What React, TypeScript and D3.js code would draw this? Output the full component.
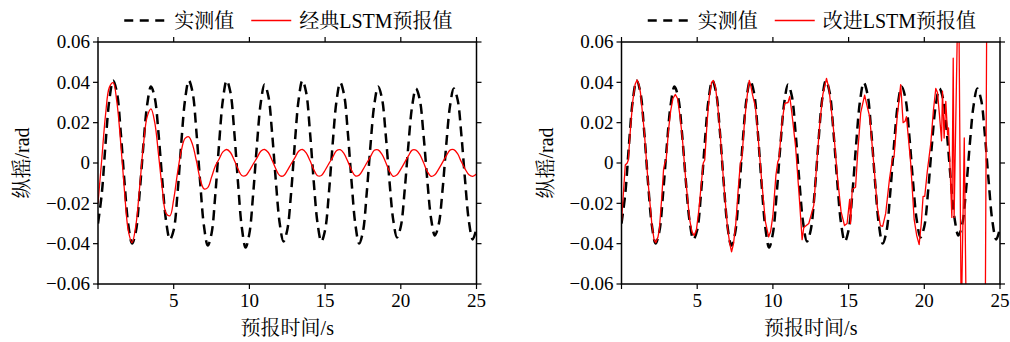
import React from "react";
import * as d3 from "d3";

// ---------- data ----------
const sampleTimes: number[] = d3.range(0, 101).map((i) => i * 0.25);

const measured: number[] = [
  -0.0300, -0.0152, 0.0097, 0.0313, 0.0409, 0.0349, 0.0155, -0.0095, -0.0305, -0.0399,
  -0.0340, -0.0148, 0.0090, 0.0290, 0.0379, 0.0323, 0.0144, -0.0090, -0.0290, -0.0379,
  -0.0332, -0.0152, 0.0097, 0.0313, 0.0409, 0.0349, 0.0155, -0.0097, -0.0313, -0.0409,
  -0.0349, -0.0155, 0.0097, 0.0313, 0.0409, 0.0349, 0.0155, -0.0100, -0.0320, -0.0419,
  -0.0349, -0.0152, 0.0092, 0.0298, 0.0389, 0.0332, 0.0148, -0.0092, -0.0298, -0.0389,
  -0.0332, -0.0152, 0.0097, 0.0313, 0.0409, 0.0349, 0.0155, -0.0092, -0.0298, -0.0389,
  -0.0332, -0.0150, 0.0095, 0.0305, 0.0399, 0.0340, 0.0152, -0.0095, -0.0305, -0.0399,
  -0.0340, -0.0148, 0.0090, 0.0290, 0.0379, 0.0323, 0.0144, -0.0088, -0.0282, -0.0369,
  -0.0315, -0.0140, 0.0088, 0.0282, 0.0369, 0.0315, 0.0140, -0.0085, -0.0275, -0.0359,
  -0.0306, -0.0140, 0.0088, 0.0282, 0.0369, 0.0315, 0.0140, -0.0090, -0.0290, -0.0379,
  -0.0323,
];

const classicLSTM: number[] = [
  -0.0200, 0.0020, 0.0240, 0.0375, 0.0398, 0.0300, 0.0100, -0.0140, -0.0335, -0.0395,
  -0.0310, -0.0120, 0.0090, 0.0230, 0.0268, 0.0200, 0.0040, -0.0130, -0.0250, -0.0262,
  -0.0180, -0.0050, 0.0060, 0.0122, 0.0130, 0.0090, 0.0010, -0.0080, -0.0128, -0.0122,
  -0.0070, -0.0015, 0.0020, 0.0055, 0.0067, 0.0052, 0.0014, -0.0030, -0.0062, -0.0063,
  -0.0038, -0.0005, 0.0025, 0.0058, 0.0067, 0.0052, 0.0014, -0.0030, -0.0062, -0.0064,
  -0.0038, -0.0005, 0.0025, 0.0058, 0.0067, 0.0050, 0.0012, -0.0032, -0.0063, -0.0062,
  -0.0036, -0.0003, 0.0028, 0.0061, 0.0066, 0.0047, 0.0008, -0.0036, -0.0064, -0.0060,
  -0.0033, 0.0000, 0.0032, 0.0063, 0.0065, 0.0044, 0.0004, -0.0040, -0.0066, -0.0058,
  -0.0030, 0.0002, 0.0035, 0.0064, 0.0064, 0.0043, 0.0002, -0.0042, -0.0066, -0.0058,
  -0.0030, 0.0002, 0.0035, 0.0064, 0.0066, 0.0046, 0.0006, -0.0030, -0.0058, -0.0066,
  -0.0055,
];

const improvedTimes: number[] = [
  0, 0.25, 0.38, 0.45, 0.6, 0.75, 0.9, 1.03, 1.15, 1.25, 1.5, 1.75, 2.0, 2.15, 2.26, 2.4,
  2.5, 2.65, 2.78, 2.86, 2.95, 3.1, 3.25, 3.4, 3.56, 3.7, 3.85, 4.0, 4.25, 4.5, 4.65, 4.8,
  4.95, 5.1, 5.25, 5.4, 5.5, 5.65, 5.8, 5.95, 6.06, 6.2, 6.35, 6.5, 6.75, 7.0, 7.15, 7.27,
  7.4, 7.55, 7.7, 7.85, 7.95, 8.1, 8.25, 8.36, 8.44, 8.55, 8.65, 8.84, 9.0, 9.25, 9.5, 9.72,
  9.85, 10.0, 10.2, 10.32, 10.4, 10.6, 10.78, 11.0, 11.11, 11.25, 11.5, 11.75, 11.93, 12.04,
  12.37, 12.7, 12.93, 13.1, 13.3, 13.54, 13.7, 14.0, 14.25, 14.5, 14.73, 14.9, 15.07, 15.13,
  15.24, 15.46, 15.6, 15.8, 16.06, 16.2, 16.39, 16.6, 16.9, 17.1, 17.25, 17.45, 17.7, 17.9,
  18.0, 18.2, 18.44, 18.6, 18.73, 18.82, 19.1, 19.33, 19.5, 19.66, 19.8, 19.92, 20.03, 20.2,
  20.43, 20.6, 20.76, 20.87, 21.0, 21.14, 21.2, 21.31, 21.42, 21.54, 21.6, 21.71, 21.82,
  21.91, 21.97, 22.26, 22.44, 22.64, 22.8, 23.5, 24.0, 24.14, 24.6, 25.0,
];

const improvedValues: number[] = [
  -0.029, -0.001, 0.0, 0.0015, 0.018, 0.031, 0.039, 0.0412, 0.039, 0.035, 0.016, -0.009,
  -0.030, -0.038, -0.0395, -0.037, -0.033, -0.018, -0.003, 0.0, 0.0015, 0.016, 0.026, 0.032,
  0.034, 0.032, 0.024, 0.014, -0.009, -0.028, -0.034, -0.036, -0.033, -0.024, -0.012, 0.0,
  0.0015, 0.020, 0.033, 0.040, 0.0409, 0.038, 0.029, 0.016, -0.010, -0.032, -0.040, -0.044,
  -0.040, -0.030, -0.014, 0.0, 0.002, 0.018, 0.030, 0.037, 0.041, 0.038, 0.034, 0.028, 0.015,
  -0.008, -0.029, -0.0366, -0.034, -0.026, -0.006, 0.0005, 0.002, 0.020, 0.0296, 0.030, 0.033,
  0.025, 0.008, -0.018, -0.038, -0.032, -0.030, -0.021, 0.003, 0.020, 0.034, 0.042, 0.037,
  0.017, -0.006, -0.024, -0.031, -0.030, -0.018, -0.030, -0.013, -0.012, 0.005, 0.025, 0.0337,
  0.029, 0.023, 0.005, -0.022, -0.031, -0.0314, -0.025, -0.008, 0.0025, 0.003, 0.022, 0.0389,
  0.020, 0.0207, 0.023, 0.0, -0.028, -0.036, -0.0405, -0.030, -0.0165, -0.0165, -0.004, 0.0099,
  0.026, 0.037, 0.035, 0.024, 0.011, 0.0356, 0.0124, 0.0306, 0.014, 0.0174, -0.004, -0.027,
  0.052, -0.027, 0.100, -0.080, 0.0124, -0.100, -0.200, -0.120, 0.100, 0.200, 0.150,
];

const xTicks: number[] = [5, 10, 15, 20, 25];
const xTickMarks: number[] = [0, 5, 10, 15, 20, 25];
const yTicks: number[] = [-0.06, -0.04, -0.02, 0, 0.02, 0.04, 0.06];
const measuredLabel = "实测值";
const classicLabel = "经典LSTM预报值";
const improvedLabel = "改进LSTM预报值";
const xTitle = "预报时间/s";
const yTitle = "纵摇/rad";

// ---------- layout ----------
const W = 1010;
const H = 342;
const TOP = 42;
const BOTTOM = 284;
const FONT = "'Liberation Serif', 'Times New Roman', 'Noto Serif CJK SC', 'Noto Sans CJK SC', serif";

type PanelProps = {
  id: string;
  left: number;
  right: number;
  predTimes: number[];
  predValues: number[];
  predLabel: string;
  predCurve: d3.CurveFactory;
};

const fmt = (d: number) => (d === 0 ? "0" : d3.format(".2f")(d));

function Panel({ id, left, right, predTimes, predValues, predLabel, predCurve }: PanelProps) {
  const x = d3.scaleLinear().domain([0, 25]).range([left, right]);
  const y = d3.scaleLinear().domain([-0.06, 0.06]).range([BOTTOM, TOP]);

  const measuredPath = d3
    .line<number>()
    .x((_, i) => x(sampleTimes[i]))
    .y((d) => y(d))
    .curve(d3.curveCatmullRom.alpha(0.5))(measured) as string;

  const predPath = d3
    .line<number>()
    .x((_, i) => x(predTimes[i]))
    .y((d) => y(d))
    .curve(predCurve)(predValues) as string;

  const tick = 5;
  const cx = (left + right) / 2;
  const cy = (TOP + BOTTOM) / 2;

  // legend layout (centered)
  const lineLen = 40;
  const gap1 = 10;
  const measW = 60;
  const gap2 = 17;
  const predW = 151;
  const total = lineLen + gap1 + measW + gap2 + lineLen + 8 + predW;
  const lx = cx - total / 2;
  const ly = 20.5;

  return (
    <g fontFamily={FONT} fill="#000">
      <defs>
        <clipPath id={`clip-${id}`}>
          <rect x={left} y={TOP} width={right - left} height={BOTTOM - TOP} />
        </clipPath>
      </defs>

      {/* data */}
      <g clipPath={`url(#clip-${id})`}>
        <path d={measuredPath} fill="none" stroke="#000" strokeWidth={2.5} strokeDasharray="10,6" />
        <path d={predPath} fill="none" stroke="#ff0000" strokeWidth={1.3} strokeLinejoin="round" />
      </g>

      {/* frame */}
      <rect x={left} y={TOP} width={right - left} height={BOTTOM - TOP} fill="none" stroke="#000" strokeWidth={1.5} />

      {/* y ticks */}
      {yTicks.map((t) => (
        <g key={`y${t}`}>
          <line x1={left - tick} x2={left} y1={y(t)} y2={y(t)} stroke="#000" strokeWidth={1.2} />
          <line x1={right} x2={right + tick} y1={y(t)} y2={y(t)} stroke="#000" strokeWidth={1.2} />
          <text x={left - tick - 3} y={y(t)} dy="0.34em" textAnchor="end" fontSize={19}>
            {fmt(t)}
          </text>
        </g>
      ))}

      {/* x ticks */}
      {xTickMarks.map((t) => (
        <g key={`x${t}`}>
          <line x1={x(t)} x2={x(t)} y1={BOTTOM} y2={BOTTOM + tick} stroke="#000" strokeWidth={1.2} />
          <line x1={x(t)} x2={x(t)} y1={TOP - tick} y2={TOP} stroke="#000" strokeWidth={1.2} />
        </g>
      ))}
      {xTicks.map((t) => (
        <text key={`xl${t}`} x={x(t)} y={BOTTOM + 23} textAnchor="middle" fontSize={19}>
          {t}
        </text>
      ))}

      {/* axis titles */}
      <text x={cx} y={335} textAnchor="middle" fontSize={20}>
        {xTitle}
      </text>
      <text transform={`translate(${left - 69},${cy}) rotate(-90)`} textAnchor="middle" fontSize={20}>
        {yTitle}
      </text>

      {/* legend */}
      <line x1={lx} x2={lx + lineLen} y1={ly} y2={ly} stroke="#000" strokeWidth={2.5} strokeDasharray="9,6.5" />
      <text x={lx + lineLen + gap1} y={ly + 7} fontSize={20}>
        {measuredLabel}
      </text>
      <line
        x1={lx + lineLen + gap1 + measW + gap2}
        x2={lx + lineLen + gap1 + measW + gap2 + lineLen}
        y1={ly}
        y2={ly}
        stroke="#ff0000"
        strokeWidth={1.5}
      />
      <text x={lx + lineLen + gap1 + measW + gap2 + lineLen + 8} y={ly + 7} fontSize={20}>
        {predLabel}
      </text>
    </g>
  );
}

export default function App() {
  return (
    <div style={{ position: "fixed", left: 0, top: 0, width: W, height: H, background: "#fff" }}>
      <svg width={W} height={H} viewBox={`0 0 ${W} ${H}`} style={{ display: "block" }}>
        <rect width={W} height={H} fill="#fff" />
        <Panel
          id="a"
          left={98}
          right={476.5}
          predTimes={sampleTimes}
          predValues={classicLSTM}
          predLabel={classicLabel}
          predCurve={d3.curveCatmullRom.alpha(0.5)}
        />
        <Panel
          id="b"
          left={621.5}
          right={1000}
          predTimes={improvedTimes}
          predValues={improvedValues}
          predLabel={improvedLabel}
          predCurve={d3.curveLinear}
        />
      </svg>
    </div>
  );
}
